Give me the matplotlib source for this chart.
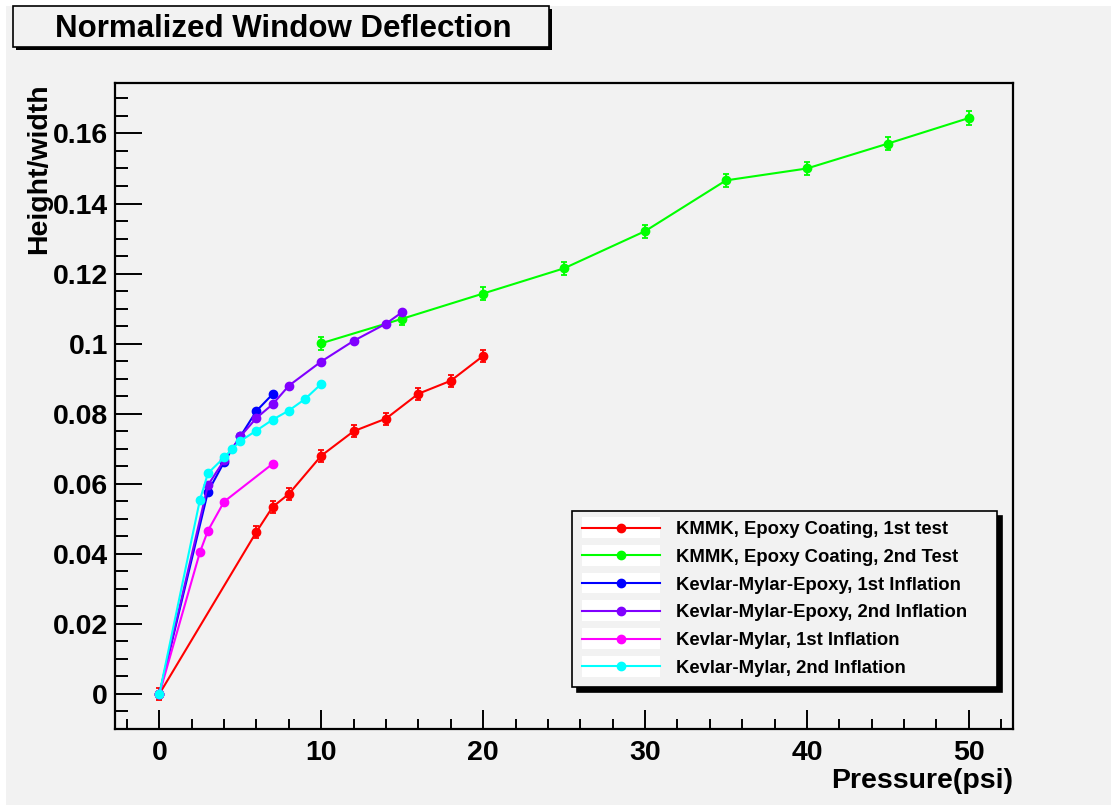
import numpy as np
import matplotlib.pyplot as plt
from matplotlib.patches import Rectangle
from matplotlib.ticker import MultipleLocator, FuncFormatter
from matplotlib.legend_handler import HandlerLine2D

plt.rcParams['font.family'] = ['Liberation Sans', 'DejaVu Sans']
plt.rcParams['font.weight'] = 'bold'

# data
p_red = [0, 6, 7, 8, 10, 12, 14, 16, 18, 20]
h_red = [0.0, 0.0463, 0.0534, 0.0571, 0.0680, 0.0750, 0.0786, 0.0857, 0.0894, 0.0965]
e_red = [0.0017] * len(p_red)

p_green = [10, 15, 20, 25, 30, 35, 40, 45, 50]
h_green = [0.1001, 0.1071, 0.1143, 0.1215, 0.1321, 0.1466, 0.1500, 0.1571, 0.1644]
e_green = [0.0019] * len(p_green)

p_blue = [0, 3, 4, 5, 6, 7]
h_blue = [0.0, 0.0577, 0.0662, 0.0735, 0.0808, 0.0856]

p_purple = [0, 3, 4, 5, 6, 7, 8, 10, 12, 14, 15]
h_purple = [0.0, 0.0596, 0.0667, 0.0735, 0.0788, 0.0827, 0.0880, 0.0949, 0.1008, 0.1057, 0.1090]

p_mag = [0, 2.5, 3, 4, 7]
h_mag = [0.0, 0.0404, 0.0466, 0.0549, 0.0657]

p_cyan = [0, 2.5, 3, 4, 4.5, 5, 6, 7, 8, 9, 10]
h_cyan = [0.0, 0.0553, 0.0630, 0.0675, 0.0700, 0.0722, 0.0752, 0.0783, 0.0809, 0.0842, 0.0885]

labels = ['KMMK, Epoxy Coating, 1st test',
          'KMMK, Epoxy Coating, 2nd Test',
          'Kevlar-Mylar-Epoxy, 1st Inflation',
          'Kevlar-Mylar-Epoxy, 2nd Inflation',
          'Kevlar-Mylar, 1st Inflation',
          'Kevlar-Mylar, 2nd Inflation']
colors = ['#ff0000', '#00ff00', '#0000ff', '#8000ff', '#ff00ff', '#00ffff']

W, H = 1111, 805
bg = '#f2f2f2'


def fx(px):
    return px / W


def fy(py):
    return 1 - py / H


class BoxedLine(HandlerLine2D):
    # root puts a white box behind the legend line sample
    def create_artists(self, legend, orig_handle, xdescent, ydescent,
                       width, height, fontsize, trans):
        arts = super().create_artists(legend, orig_handle, xdescent, ydescent,
                                      width, height, fontsize, trans)
        box = Rectangle((-xdescent, -ydescent - 0.3 * height), width, 1.6 * height,
                        facecolor='white', edgecolor='none', transform=trans)
        return [box] + arts


fig = plt.figure(figsize=(W / 100, H / 100), dpi=100, facecolor='white')
fig.patches.append(Rectangle((fx(6), 0), 1 - fx(6), fy(6), transform=fig.transFigure,
                             facecolor=bg, edgecolor='none', zorder=-10))

ax = fig.add_axes([fx(115), fy(729), fx(1013) - fx(115), fy(83) - fy(729)])
ax.set_facecolor(bg)

series = [(p_red, h_red, e_red), (p_green, h_green, e_green),
          (p_blue, h_blue, None), (p_purple, h_purple, None),
          (p_mag, h_mag, None), (p_cyan, h_cyan, None)]
handles = []
for (px, py, pe), c, lab in zip(series, colors, labels):
    cont = ax.errorbar(px, py, yerr=pe, color=c, lw=1.5, marker='o', ms=6,
                       capsize=2, elinewidth=1.3, capthick=1.3, label=lab)
    handles.append(cont[0])

ax.set_xlim(-2.74, 52.73)
ax.set_ylim(-0.010, 0.1744)

ax.xaxis.set_major_locator(MultipleLocator(10))
ax.xaxis.set_minor_locator(MultipleLocator(2))
ax.yaxis.set_major_locator(MultipleLocator(0.02))
ax.yaxis.set_minor_locator(MultipleLocator(0.005))
ax.yaxis.set_major_formatter(FuncFormatter(lambda v, p: '%g' % round(v, 4)))
ax.xaxis.set_major_formatter(FuncFormatter(lambda v, p: '%g' % v))

ax.tick_params(axis='both', which='both', direction='in', top=False, right=False,
               width=1.4, labelsize=20.5, colors='black')
ax.tick_params(axis='x', which='major', length=13.5, pad=8)
ax.tick_params(axis='x', which='minor', length=7)
ax.tick_params(axis='y', which='major', length=19.5, pad=5)
ax.tick_params(axis='y', which='minor', length=9.5)
for lab in ax.get_xticklabels() + ax.get_yticklabels():
    lab.set_fontweight('bold')
for s in ax.spines.values():
    s.set_linewidth(1.6)

fig.text(fx(1013), fy(788), 'Pressure(psi)', ha='right', va='baseline',
         fontsize=20.5, fontweight='bold')
fig.text(fx(39), fy(83), 'Height/width', rotation=90, ha='center', va='top',
         fontsize=20.5, fontweight='bold')

# title box with shadow
fig.patches.append(Rectangle((fx(16), fy(50)), fx(549) - fx(13), fy(6) - fy(47),
                             transform=fig.transFigure, facecolor='black',
                             edgecolor='none', zorder=1))
fig.patches.append(Rectangle((fx(13), fy(47)), fx(549) - fx(13), fy(6) - fy(47),
                             transform=fig.transFigure, facecolor=bg,
                             edgecolor='black', lw=1.2, zorder=2))
fig.text(fx(283), fy(37), 'Normalized Window Deflection', ha='center', va='baseline',
         fontsize=22.5, fontweight='bold', zorder=3)

leg = ax.legend(handles=handles, labels=labels, loc='upper left',
                bbox_to_anchor=(fx(572), fy(681), fx(997) - fx(572), fy(511) - fy(681)),
                bbox_transform=fig.transFigure, mode='expand',
                borderaxespad=0, prop={'weight': 'bold', 'size': 13.3},
                handlelength=4.2, handletextpad=0.9, labelspacing=0.58,
                borderpad=0.55, numpoints=1, fancybox=False, framealpha=1,
                facecolor=bg, edgecolor='black',
                shadow={'color': 'black', 'alpha': 1, 'ox': 3.5, 'oy': -3.5},
                handler_map={h: BoxedLine() for h in handles})
leg.get_frame().set_linewidth(1.2)
for line in leg.get_lines():
    line.set_markersize(5.5)

fig.savefig('out.png', dpi=100, facecolor=fig.get_facecolor())
